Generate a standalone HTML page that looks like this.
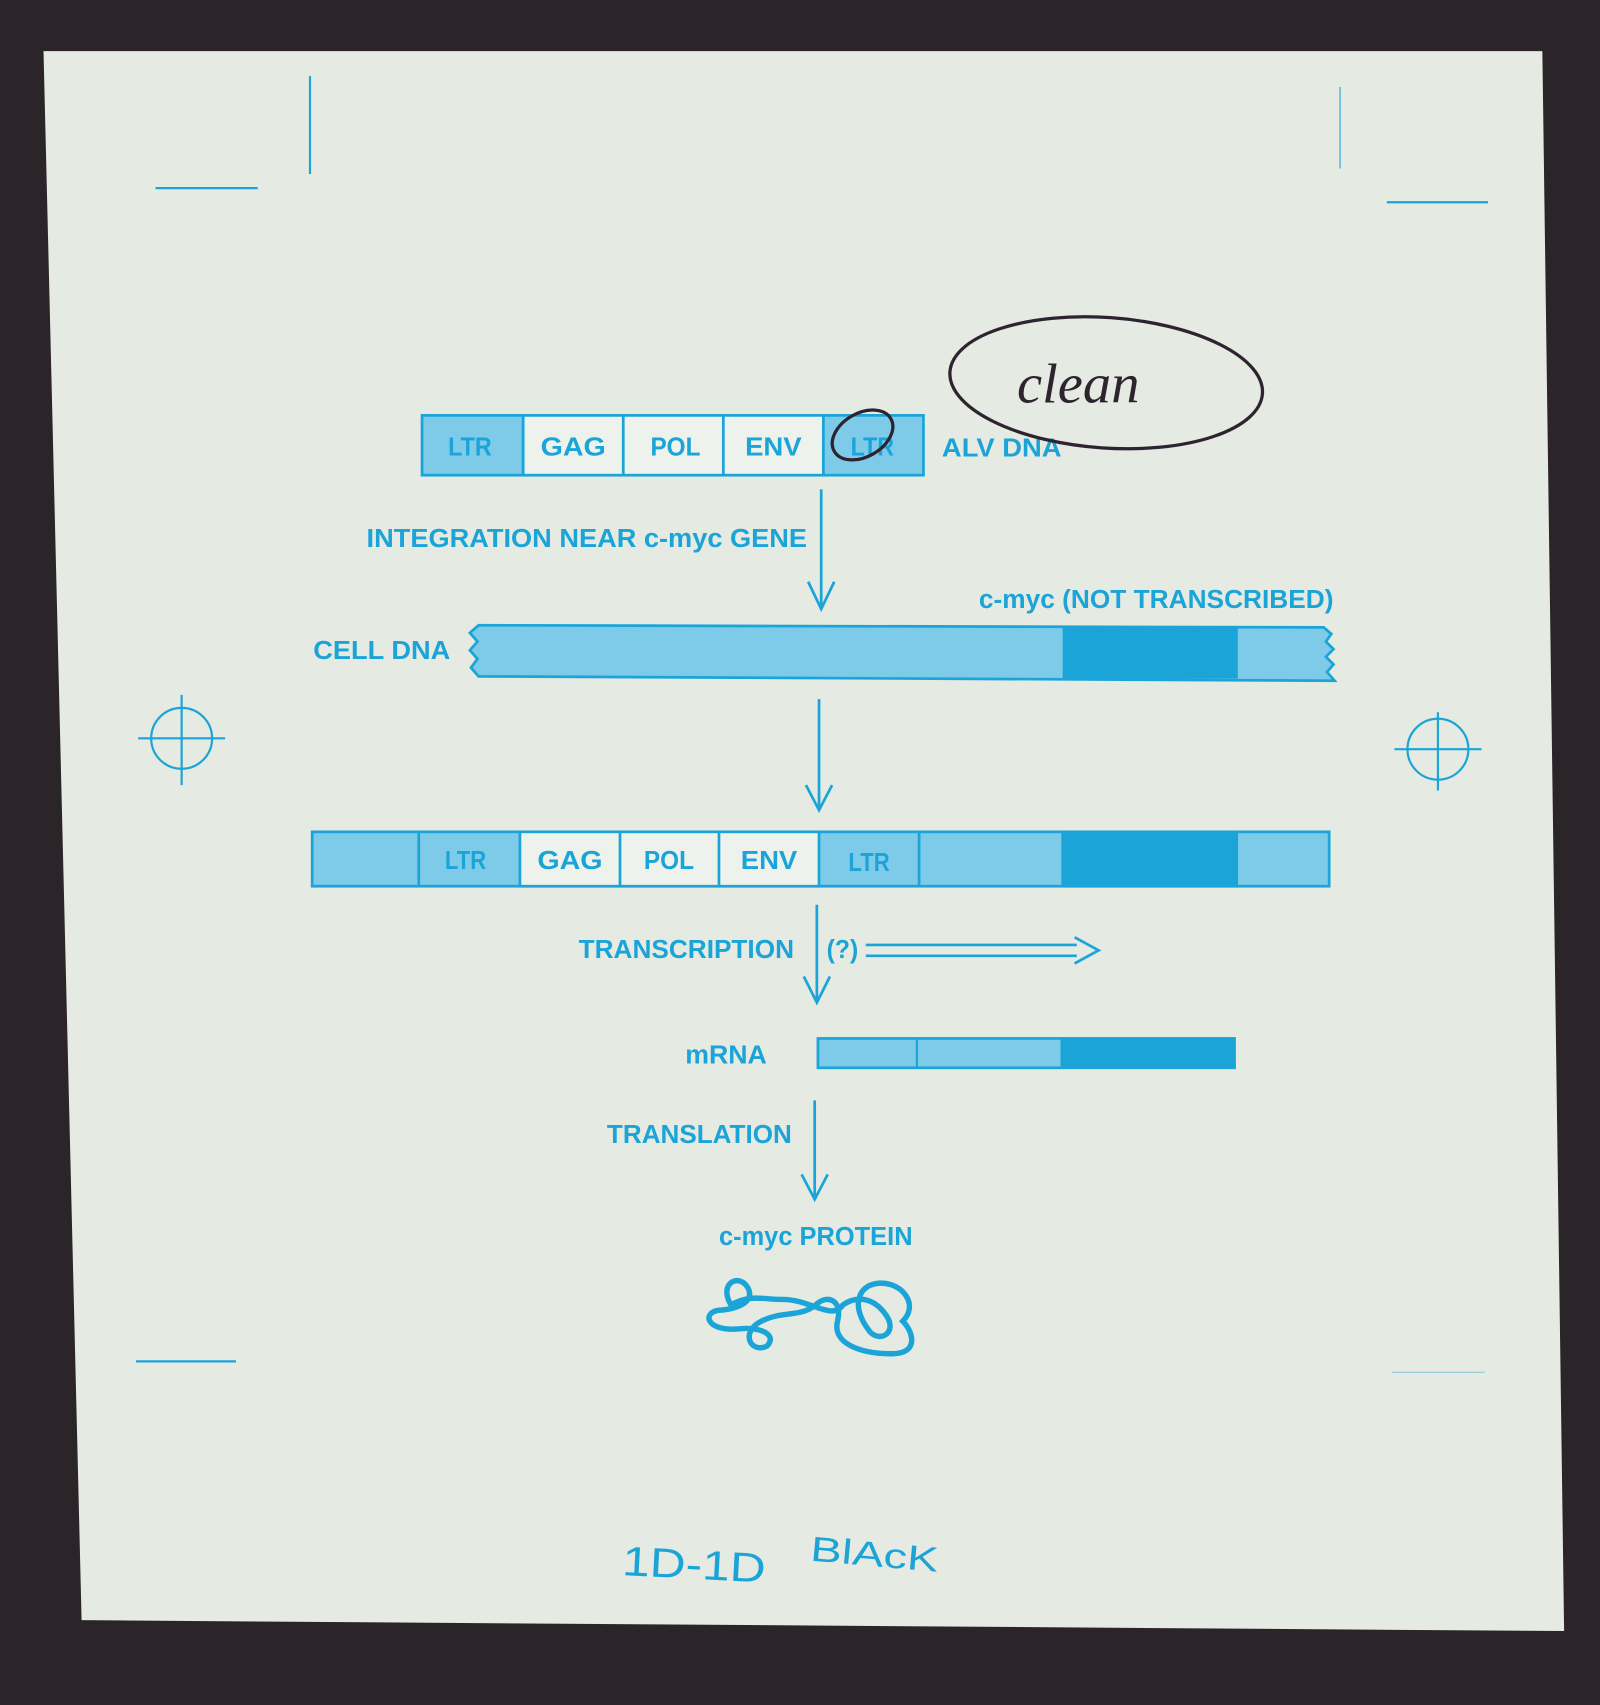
<!DOCTYPE html>
<html><head><meta charset="utf-8"><style>
html,body{margin:0;padding:0;background:#2a2428;}
svg{display:block}
text{font-family:"Liberation Sans",sans-serif;fill:#1ba4d8;}
.b text{font-weight:bold}
</style></head><body>
<svg width="1600" height="1705" viewBox="0 0 1471 1568" preserveAspectRatio="none" xmlns="http://www.w3.org/2000/svg">
<rect x="0" y="0" width="1471" height="1568" fill="#2b2428"/>
<polygon points="40,47 1418,47 1438,1500 75,1490" fill="#e5eae2"/>
<g stroke="#1ba4d8" fill="none" stroke-width="2">
<line x1="143" y1="173" x2="237" y2="173"/>
<line x1="285" y1="70" x2="285" y2="160"/>
<line x1="1275" y1="186" x2="1368" y2="186"/>
<line x1="125" y1="1252" x2="217" y2="1252"/>
<line x1="1232" y1="80" x2="1232" y2="155" stroke-width="1"/>
<line x1="1280" y1="1262" x2="1365" y2="1262" stroke-width="1" opacity=".5"/>
<circle cx="167" cy="679" r="28"/><line x1="127" y1="679" x2="207" y2="679"/><line x1="167" y1="639" x2="167" y2="722"/>
<circle cx="1322" cy="689" r="28"/><line x1="1282" y1="689" x2="1362" y2="689"/><line x1="1322" y1="655" x2="1322" y2="727"/>
</g>
<g stroke="#1ba4d8" stroke-width="2.5">
<rect x="388" y="382" width="93" height="55" fill="#7dcbe8"/>
<rect x="481" y="382" width="276" height="55" fill="#eef2ec"/>
<rect x="757" y="382" width="92" height="55" fill="#7dcbe8"/>
<line x1="573" y1="382" x2="573" y2="437"/><line x1="665" y1="382" x2="665" y2="437"/>
</g>
<g font-size="24" class="b">
<text x="412" y="419" textLength="40" lengthAdjust="spacingAndGlyphs">LTR</text>
<text x="497" y="419" textLength="60" lengthAdjust="spacingAndGlyphs">GAG</text>
<text x="598" y="419" textLength="46" lengthAdjust="spacingAndGlyphs">POL</text>
<text x="685" y="419" textLength="52" lengthAdjust="spacingAndGlyphs">ENV</text>
<text x="782" y="419" textLength="40" lengthAdjust="spacingAndGlyphs">LTR</text>
<text x="866" y="420" textLength="110" lengthAdjust="spacingAndGlyphs">ALV DNA</text>
<text x="337" y="503" textLength="405" lengthAdjust="spacingAndGlyphs">INTEGRATION NEAR c-myc GENE</text>
<text x="900" y="559" textLength="326" lengthAdjust="spacingAndGlyphs">c-myc (NOT TRANSCRIBED)</text>
<text x="288" y="606" textLength="126" lengthAdjust="spacingAndGlyphs">CELL DNA</text>
</g>
<g stroke="#2e2430" fill="none" stroke-width="3">
<ellipse cx="1017" cy="352" rx="144" ry="60" transform="rotate(4 1017 352)"/>
<ellipse cx="793" cy="400" rx="30" ry="20" transform="rotate(-30 793 400)"/>
</g>
<text x="935" y="370" font-size="52" font-style="italic" style="fill:#2e2430;font-family:'Liberation Serif',serif">clean</text>
<g stroke="#1ba4d8" stroke-width="2.5" fill="none">
<line x1="755" y1="450" x2="755" y2="560"/><polyline points="743,535 755,560 767,535"/>
<line x1="753" y1="643" x2="753" y2="745"/><polyline points="741,722 753,745 765,722"/>
<line x1="751" y1="832" x2="751" y2="922"/><polyline points="739,898 751,922 763,898"/>
<line x1="749" y1="1012" x2="749" y2="1103"/><polyline points="737,1080 749,1103 761,1080"/>
<line x1="796" y1="869" x2="990" y2="869"/><line x1="796" y1="879" x2="990" y2="879"/>
<polyline points="988,862 1010,874 988,886"/>
</g>
<path d="M440,575 L1217,577 L1224,583 L1219,590 L1226,597 L1219,604 L1226,611 L1220,618 L1227,626 L440,622 L433,614 L439,606 L432,598 L439,590 L432,582 Z" fill="#7dcbe8" stroke="#1ba4d8" stroke-width="2.5"/>
<rect x="977" y="577" width="161" height="47" fill="#1ba4d8"/>
<g stroke="#1ba4d8" stroke-width="2.5">
<rect x="287" y="765" width="935" height="50" fill="#7dcbe8"/>
<rect x="478" y="765" width="275" height="50" fill="#eef2ec"/>
<rect x="977" y="765" width="160" height="50" fill="#1ba4d8"/>
<line x1="385" y1="765" x2="385" y2="815"/><line x1="570" y1="765" x2="570" y2="815"/>
<line x1="661" y1="765" x2="661" y2="815"/><line x1="845" y1="765" x2="845" y2="815"/>
</g>
<g font-size="24" class="b">
<text x="409" y="799" textLength="38" lengthAdjust="spacingAndGlyphs">LTR</text>
<text x="494" y="799" textLength="60" lengthAdjust="spacingAndGlyphs">GAG</text>
<text x="592" y="799" textLength="46" lengthAdjust="spacingAndGlyphs">POL</text>
<text x="681" y="799" textLength="52" lengthAdjust="spacingAndGlyphs">ENV</text>
<text x="780" y="801" textLength="38" lengthAdjust="spacingAndGlyphs">LTR</text>
<text x="532" y="881" textLength="198" lengthAdjust="spacingAndGlyphs">TRANSCRIPTION</text>
<text x="760" y="881" textLength="29" lengthAdjust="spacingAndGlyphs">(?)</text>
<text x="630" y="978" textLength="75" lengthAdjust="spacingAndGlyphs">mRNA</text>
<text x="558" y="1051" textLength="170" lengthAdjust="spacingAndGlyphs">TRANSLATION</text>
<text x="661" y="1145" textLength="178" lengthAdjust="spacingAndGlyphs">c-myc PROTEIN</text>
</g>
<rect x="752" y="955" width="383" height="27" fill="#7dcbe8" stroke="#1ba4d8" stroke-width="2.5"/>
<rect x="975" y="955" width="160" height="27" fill="#1ba4d8"/>
<line x1="843" y1="955" x2="843" y2="982" stroke="#1ba4d8" stroke-width="2"/>
<path d="M672,1200 C660,1180 680,1170 688,1185 C695,1200 670,1205 660,1205 C645,1208 650,1225 680,1222 C700,1220 715,1228 705,1238 C690,1245 680,1225 700,1215 C720,1205 735,1212 750,1200 C760,1190 775,1195 770,1215 C765,1235 790,1245 820,1245 C845,1245 840,1225 830,1215 C845,1200 830,1180 810,1180 C790,1180 780,1200 800,1225 C810,1235 825,1225 815,1210 C805,1195 790,1190 775,1200 C765,1215 745,1195 720,1195 C700,1195 690,1190 672,1200 Z" fill="none" stroke="#1ba4d8" stroke-width="5"/>
<text x="572" y="1452" font-size="38" textLength="132" lengthAdjust="spacingAndGlyphs" transform="rotate(3 640 1440)">1D-1D</text>
<text x="745" y="1440" font-size="32" textLength="118" lengthAdjust="spacingAndGlyphs" transform="rotate(5 800 1430)">BlAcK</text>
</svg>
</body></html>
